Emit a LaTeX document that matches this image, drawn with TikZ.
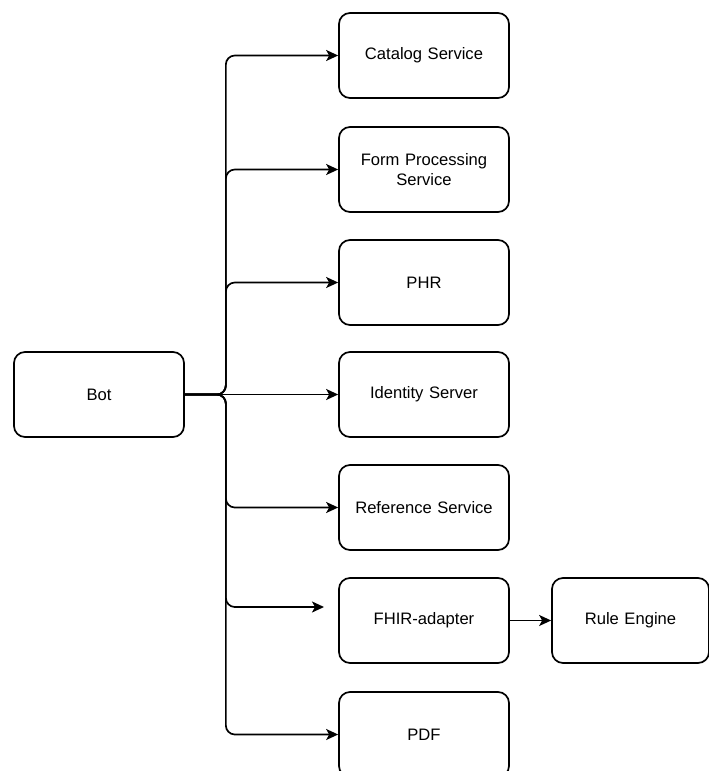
\documentclass[tikz,border=0pt]{standalone}
\usepackage{fontspec}
\setmainfont{Liberation Sans}
\usetikzlibrary{arrows.meta}

\begin{document}
\begin{tikzpicture}[x=1pt,y=-1pt]
  \tikzset{
    every node/.style={font=\fontsize{16.6}{20}\selectfont},
    svc/.style={draw, line width=1.7pt, rounded corners=11pt, minimum width=170pt,
      minimum height=85pt, align=center, text width=155pt},
    link/.style={draw, line width=1.7pt, rounded corners=9pt, -{Stealth[length=12pt,width=11pt,inset=3pt]}}
  }
  \useasboundingbox (0,0) rectangle (709,771);

  \node[svc] (bot) at (99,394.5) {Bot};

  \node[svc] (catalog) at (424,55.5) {Catalog Service};
  \node[svc] (form) at (424,169.5) {Form Processing\\Service};
  \node[svc] (phr) at (424,282.5) {PHR};
  \node[svc] (identity) at (424,394.5) {Identity Server};
  \node[svc] (reference) at (424,507.5) {Reference Service};
  \node[svc] (fhir) at (424,620.5) {FHIR-adapter};
  \node[svc] (pdf) at (424,734.5) {PDF};
  \node[svc, minimum width=157pt, text width=140pt] (rule) at (630.5,620.5) {Rule Engine};

  \coordinate (fhirend) at (324,607);

  % bot to services
  \draw[link] (bot.east) -- ++(41,0) |- (catalog.west);
  \draw[link] (bot.east) -- ++(41,0) |- (form.west);
  \draw[link] (bot.east) -- ++(41,0) |- (phr.west);
  \draw[link] (bot.east) -- (identity.west);
  \draw[link] (bot.east) -- ++(41,0) |- (reference.west);
  \draw[link] (bot.east) -- ++(41,0) |- (fhirend);
  \draw[link] (bot.east) -- ++(41,0) |- (pdf.west);

  \draw[link] (fhir.east) -- (rule.west);

\end{tikzpicture}
\end{document}
